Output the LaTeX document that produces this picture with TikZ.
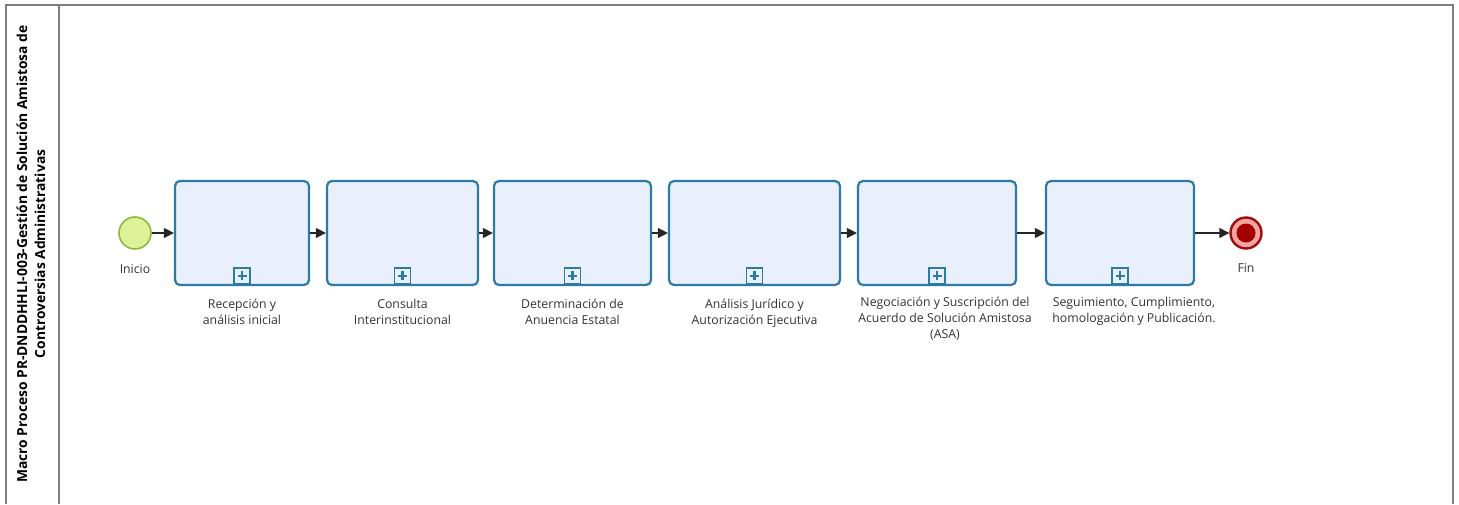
\documentclass[tikz,border=0pt]{standalone}
\usepackage{fontspec}
\setmainfont{Open Sans}
\usetikzlibrary{arrows.meta,positioning}
\definecolor{taskline}{HTML}{2C7BA2}
\definecolor{taskfill}{HTML}{E9EFFB}
\definecolor{startfill}{HTML}{DFF29A}
\definecolor{startline}{HTML}{8DB83E}
\definecolor{endline}{HTML}{9E0D0D}
\definecolor{endfill}{HTML}{F4A3A3}
\definecolor{endcore}{HTML}{A50000}
\definecolor{lanegray}{HTML}{7F7F7F}
\definecolor{txt}{HTML}{333333}

\begin{document}
\begin{tikzpicture}[x=1pt,y=-1pt,
task/.style={draw=taskline,line width=2.2pt,rounded corners=5pt,fill=taskfill,minimum height=104pt},
sub/.style={draw=taskline,line width=1.6pt,fill=taskfill,minimum size=16pt,inner sep=0pt,
  path picture={\draw[taskline,line width=2.4pt]
    ([xshift=-4.5pt]path picture bounding box.center) -- ([xshift=4.5pt]path picture bounding box.center)
    ([yshift=-4.5pt]path picture bounding box.center) -- ([yshift=4.5pt]path picture bounding box.center);}},
lbl/.style={align=center,inner sep=0pt,text=txt,font=\fontsize{12.3}{16}\selectfont},
startev/.style={circle,draw=startline,line width=1.6pt,fill=startfill,minimum size=32pt,inner sep=0pt},
endev/.style={circle,draw=endline,line width=2.4pt,fill=endfill,minimum size=31pt,inner sep=0pt,
  path picture={\fill[endcore] (path picture bounding box.center) circle (9.5pt);}},
flow/.style={draw=black!85,line width=1.2pt,-{Triangle[length=10pt,width=10pt]}},
lane/.style={draw=lanegray,line width=1.5pt}]
\useasboundingbox (0,0) rectangle (1459,504);
% pool frame
\draw[lane] (6,504) -- (6,5) -- (1453,5) -- (1453,504);
\draw[lane] (59,5) -- (59,504);
\node[rotate=90,align=center,inner sep=0pt,text=black,font=\bfseries\fontsize{13.8}{18}\selectfont] (pool) at (31,254)
  {Macro Proceso PR-DNDDHHLI-003-Gestión de Solución Amistosa de\\Controversias Administrativas};
% events and tasks
\node[startev] (inicio) at (135,233) {};
\node[task,minimum width=134pt] (recep) at (242,233) {};
\node[task,minimum width=151pt] (consulta) at (402.5,233) {};
\node[task,minimum width=157pt] (determ) at (572.5,233) {};
\node[task,minimum width=171pt] (analisis) at (754.5,233) {};
\node[task,minimum width=158pt] (negoc) at (937,233) {};
\node[task,minimum width=148pt] (seguim) at (1120,233) {};
\node[endev] (fin) at (1246,233) {};
\foreach \t in {recep,consulta,determ,analisis,negoc,seguim}
  \node[sub,above=1.4pt of \t.south] (\t-sub) {};
% labels
\node[lbl,below=14pt of inicio] (inicio-l) {Inicio};
\node[lbl,below=14pt of fin] (fin-l) {Fin};
\node[lbl,below=13pt of recep] (recep-l) {Recepción y\\análisis inicial};
\node[lbl,below=13pt of consulta] (consulta-l) {Consulta\\Interinstitucional};
\node[lbl,below=13pt of determ] (determ-l) {Determinación de\\Anuencia Estatal};
\node[lbl,below=13pt of analisis] (analisis-l) {Análisis Jurídico y\\Autorización Ejecutiva};
\node[lbl,below=11pt of negoc,xshift=8pt] (negoc-l) {Negociación y Suscripción del\\Acuerdo de Solución Amistosa\\(ASA)};
\node[lbl,below=11pt of seguim,xshift=14pt] (seguim-l) {Seguimiento, Cumplimiento,\\homologación y Publicación.};
% sequence flows
\draw[flow] (inicio) -- (recep);
\draw[flow] (recep) -- (consulta);
\draw[flow] (consulta) -- (determ);
\draw[flow] (determ) -- (analisis);
\draw[flow] (analisis) -- (negoc);
\draw[flow] (negoc) -- (seguim);
\draw[flow] (seguim) -- (fin);
\end{tikzpicture}
\end{document}
